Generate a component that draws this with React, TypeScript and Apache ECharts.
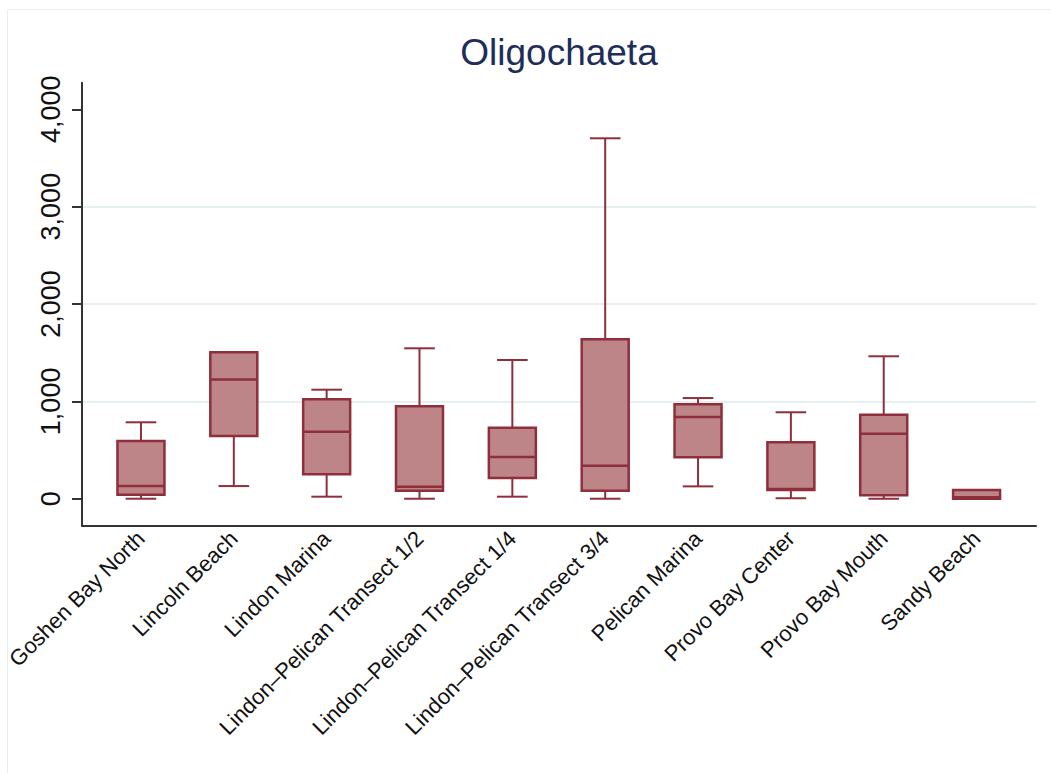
import React, { useEffect, useRef } from "react";
import * as echarts from "echarts";

const categories = [
  "Goshen Bay North",
  "Lincoln Beach",
  "Lindon Marina",
  "Lindon–Pelican Transect 1/2",
  "Lindon–Pelican Transect 1/4",
  "Lindon–Pelican Transect 3/4",
  "Pelican Marina",
  "Provo Bay Center",
  "Provo Bay Mouth",
  "Sandy Beach",
];
const mins = [0, 130, 21, 0, 21, 0, 127, 5, 0, 0];
const q1s = [41, 644, 251, 82, 213, 82, 425, 89, 35, 0];
const medians = [130, 1225, 688, 123, 428, 339, 839, 100, 668, 15];
const q3s = [593, 1505, 1021, 949, 729, 1637, 970, 579, 863, 90];
const maxs = [785, 1505, 1120, 1545, 1425, 3702, 1034, 888, 1463, 90];
const yTicks = [0, 1000, 2000, 3000, 4000];
const titleText = "Oligochaeta";

const STROKE = "#8f2f3b";
const FILL = "#bd8587";
const FONT = "'Liberation Sans', Arial, Helvetica, sans-serif";

export default function App() {
  const ref = useRef<HTMLDivElement>(null);
  useEffect(() => {
    if (!ref.current) return;
    const chart = echarts.init(ref.current, undefined, { renderer: "svg" });
    const data = categories.map((_, i) => [i, mins[i], q1s[i], medians[i], q3s[i], maxs[i]]);
    chart.setOption({
      animation: false,
      backgroundColor: "#ffffff",
      textStyle: { fontFamily: FONT },
      graphic: [
        { type: "line", shape: { x1: 7.5, y1: 9.5, x2: 1051, y2: 9.5 }, style: { stroke: "#ebebeb", lineWidth: 1 } },
        { type: "line", shape: { x1: 7.5, y1: 9.5, x2: 7.5, y2: 773 }, style: { stroke: "#ebebeb", lineWidth: 1 } },
        {
          type: "text",
          x: 559,
          y: 34,
          style: {
            text: titleText,
            fontSize: 37,
            fontFamily: FONT,
            fill: "#1e2d5a",
            textAlign: "center",
            textVerticalAlign: "top",
          },
        },
      ],
      grid: { left: 82, right: 15, top: 82.7, bottom: 247.3, containLabel: false },
      xAxis: {
        type: "value",
        min: -0.635,
        max: 9.64,
        splitLine: { show: false },
        axisTick: { show: false },
        axisLine: { show: true, onZero: false, lineStyle: { color: "#333333", width: 2 } },
        axisLabel: {
          customValues: categories.map((_, i) => i),
          formatter: (v: number) => categories[Math.round(v)] ?? "",
          rotate: 45,
          fontSize: 22,
          color: "#111111",
          fontFamily: FONT,
          margin: 9,
        },
      },
      yAxis: {
        type: "value",
        min: -277,
        max: 4273,
        axisLine: { show: true, onZero: false, lineStyle: { color: "#333333", width: 2 } },
        axisTick: { show: true, length: 10, customValues: yTicks, lineStyle: { color: "#333333", width: 2 } },
        axisLabel: {
          customValues: yTicks,
          formatter: (v: number) => v.toLocaleString("en-US"),
          rotate: 90,
          fontSize: 27,
          color: "#111111",
          fontFamily: FONT,
          align: "center",
          verticalAlign: "bottom",
          margin: 18,
        },
        splitLine: {
          show: true,
          showMinLine: false,
          showMaxLine: false,
          lineStyle: { color: "#e6eff2", width: 2 },
        },
      },
      series: [
        {
          type: "custom",
          data,
          encode: { x: 0, y: [1, 2, 3, 4, 5] },
          renderItem: (params: any, api: any) => {
            const x = api.value(0);
            const pMin = api.coord([x, api.value(1)]);
            const pQ1 = api.coord([x, api.value(2)]);
            const pMed = api.coord([x, api.value(3)]);
            const pQ3 = api.coord([x, api.value(4)]);
            const pMax = api.coord([x, api.value(5)]);
            const unit = api.size([1, 0])[0];
            const bw = unit * 0.506;
            const cw = unit * 0.33;
            const cx = pMin[0];
            const lineStyle = { stroke: STROKE, lineWidth: 2, fill: null };
            const children: any[] = [];
            if (pQ1[1] !== pMin[1]) {
              children.push({ type: "line", shape: { x1: cx, y1: pQ1[1], x2: cx, y2: pMin[1] }, style: lineStyle });
            }
            children.push({ type: "line", shape: { x1: cx - cw / 2, y1: pMin[1], x2: cx + cw / 2, y2: pMin[1] }, style: lineStyle });
            if (pQ3[1] !== pMax[1]) {
              children.push({ type: "line", shape: { x1: cx, y1: pQ3[1], x2: cx, y2: pMax[1] }, style: lineStyle });
              children.push({ type: "line", shape: { x1: cx - cw / 2, y1: pMax[1], x2: cx + cw / 2, y2: pMax[1] }, style: lineStyle });
            }
            children.push({
              type: "rect",
              shape: { x: cx - bw / 2, y: pQ3[1], width: bw, height: pQ1[1] - pQ3[1] },
              style: { fill: FILL, stroke: STROKE, lineWidth: 2.5 },
            });
            children.push({ type: "line", shape: { x1: cx - bw / 2, y1: pMed[1], x2: cx + bw / 2, y2: pMed[1] }, style: { stroke: STROKE, lineWidth: 2.5 } });
            return { type: "group", children };
          },
        },
      ],
    });
    return () => chart.dispose();
  }, []);
  return (
    <div
      ref={ref}
      style={{ position: "fixed", left: 0, top: 0, width: 1051, height: 773 }}
    />
  );
}
